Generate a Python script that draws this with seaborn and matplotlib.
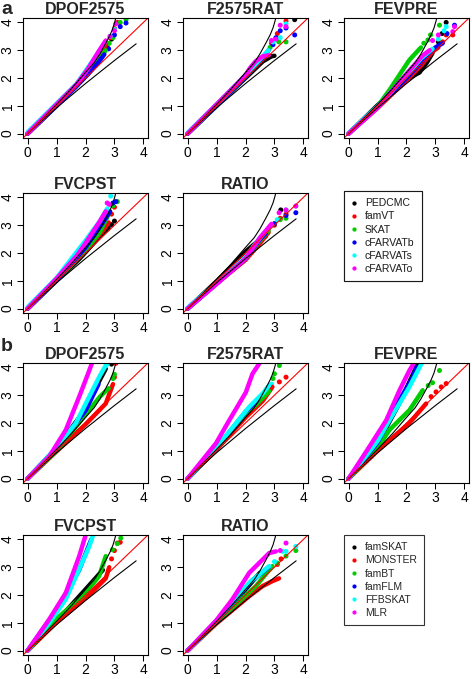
import matplotlib
matplotlib.use("Agg")
import matplotlib.pyplot as plt
import seaborn as sns
import pandas as pd
from matplotlib.lines import Line2D

sns.set_style("ticks")
plt.rcParams['font.family'] = ['Liberation Sans', 'DejaVu Sans']

SERIES_A = ["PEDCMC", "famVT", "SKAT", "cFARVATb", "cFARVATs", "cFARVATo"]
SERIES_B = ["famSKAT", "MONSTER", "famBT", "famFLM", "FFBSKAT", "MLR"]
COLORS = ["#000000", "#FF0000", "#00CD00", "#0000FF", "#00FFFF", "#FF00FF"]
PHENOS = ["DPOF2575", "F2575RAT", "FEVPRE", "FVCPST", "RATIO"]
TICKS = [0, 1, 2, 3, 4]

# confidence band (expected vs observed -log10 p)
BAND_UP_X = [0, 0.5, 1.0, 1.5, 2.0, 2.3, 2.5, 2.7, 2.85, 2.95, 3.02, 3.08]
BAND_UP_Y = [0, 0.52, 1.05, 1.6, 2.2, 2.55, 2.87, 3.25, 3.55, 3.8, 4.05, 4.3]
BAND_LO_X = [0, 1.0, 2.0, 3.0, 3.75]
BAND_LO_Y = [0, 0.93, 1.8, 2.63, 3.23]

# each series: (dense body points, scattered tail points)
A_DPOF2575 = {
    "PEDCMC": ([(0, 0), (1, 1.0), (1.7, 1.72), (2.1, 2.2), (2.4, 2.55), (2.6, 2.85)], [(2.75, 3.1), (2.9, 3.4)]),
    "famVT": ([(0, 0), (1, 1.02), (1.7, 1.75), (2.2, 2.35), (2.5, 2.8), (2.7, 3.2)], [(2.85, 3.45), (3.0, 3.78), (3.1, 4.0)]),
    "SKAT": ([(0, 0), (1, 1.02), (1.7, 1.75), (2.2, 2.3), (2.5, 2.7), (2.7, 3.0)], [(2.82, 3.25), (2.95, 3.45), (3.2, 4.0), (3.4, 4.1)]),
    "cFARVATb": ([(0, 0), (1, 1.0), (1.7, 1.72), (2.1, 2.15), (2.4, 2.5), (2.65, 2.85)], [(2.8, 3.05), (3.0, 3.55), (3.2, 3.85), (3.4, 3.98)]),
    "cFARVATs": ([(0, 0.05), (1, 1.08), (1.7, 1.8), (2.1, 2.4), (2.4, 2.85), (2.65, 3.25)], [(2.85, 3.5), (3.0, 3.75)]),
    "cFARVATo": ([(0, 0), (1, 1.05), (1.7, 1.78), (2.1, 2.35), (2.45, 2.95), (2.7, 3.35)], [(2.85, 3.5), (3.0, 3.7), (3.05, 3.95)]),
}
A_F2575RAT = {
    "PEDCMC": ([(0, 0), (1, 1.0), (1.8, 1.8), (2.2, 2.2), (2.6, 2.6), (2.9, 2.78), (3.0, 2.8)], [(3.7, 4.1)]),
    "famVT": ([(0, 0), (1, 1.02), (2, 2.05), (2.4, 2.55), (2.7, 2.85)], [(2.9, 3.25), (3.1, 3.6), (3.4, 4.05)]),
    "SKAT": ([(0, 0), (1, 1.0), (2, 2.05), (2.4, 2.5), (2.7, 2.85)], [(2.85, 3.1), (3.15, 3.3), (3.4, 3.3)]),
    "cFARVATb": ([(0, 0), (1, 1.0), (2, 2.05), (2.4, 2.5), (2.8, 3.0)], [(2.95, 3.2), (3.05, 3.45), (3.2, 3.7), (3.4, 3.8), (3.7, 3.55)]),
    "cFARVATs": ([(0, 0.03), (1, 1.05), (2, 2.1), (2.4, 2.55), (2.8, 3.0)], [(2.95, 3.3), (3.2, 3.45), (3.4, 3.95)]),
    "cFARVATo": ([(0, 0), (1, 1.05), (2, 2.1), (2.15, 2.35), (2.35, 2.6), (2.6, 2.78), (2.8, 2.82)], [(2.9, 3.35), (3.05, 3.4), (3.2, 3.9), (3.4, 3.85)]),
}
A_FEVPRE = {
    "PEDCMC": ([(0, 0), (1, 1.02), (2, 1.95), (2.45, 2.2), (2.7, 2.55), (2.9, 2.9)], [(3.1, 3.3), (3.23, 3.6), (3.37, 4.0)]),
    "famVT": ([(0, 0), (1, 0.92), (2, 1.92), (2.5, 2.45), (2.9, 2.95), (3.1, 3.1)], [(3.25, 3.3), (3.37, 3.55), (3.6, 3.55)]),
    "SKAT": ([(0, 0), (1, 0.98), (1.4, 1.55), (2.1, 2.65), (2.5, 3.1)], [(2.6, 3.25), (2.74, 3.37), (2.83, 3.55), (3.14, 3.9)]),
    "cFARVATb": ([(0, 0), (1, 0.97), (2, 2.0), (2.5, 2.55), (3.0, 3.1), (3.25, 3.25)], [(3.4, 3.6), (3.66, 3.9)]),
    "cFARVATs": ([(0, 0.02), (1, 0.98), (2, 2.1), (2.5, 2.7), (2.9, 3.05)], [(3.1, 3.4), (3.3, 3.7), (3.37, 3.85)]),
    "cFARVATo": ([(0, 0), (1, 0.93), (2, 2.15), (2.55, 2.8), (2.8, 3.0)], [(2.9, 3.35), (3.1, 3.55), (3.6, 3.67), (3.66, 3.85)]),
}
A_FVCPST = {
    "PEDCMC": ([(0, 0), (1, 1.0), (1.8, 1.8), (2.5, 2.6), (2.8, 2.9)], [(2.9, 3.02), (3.0, 3.15)]),
    "famVT": ([(0, 0), (1, 1.02), (2, 2.1), (2.6, 2.8), (2.8, 3.1)], [(2.9, 3.4), (3.0, 3.65)]),
    "SKAT": ([(0, 0), (1, 1.02), (2, 2.1), (2.5, 2.75), (2.8, 3.4)], [(2.95, 3.7), (3.1, 3.85)]),
    "cFARVATb": ([(0, 0), (1, 1.02), (2, 2.2), (2.6, 3.1), (2.85, 3.5)], [(2.95, 3.8), (3.05, 3.85)]),
    "cFARVATs": ([(0, 0.05), (1, 1.1), (2, 2.45), (2.5, 3.15), (2.75, 3.6)], [(2.87, 4.05)]),
    "cFARVATo": ([(0, 0), (1, 1.08), (1.7, 1.9), (2.0, 2.35), (2.47, 3.1), (2.7, 3.5)], [(2.82, 3.75), (2.75, 3.8)]),
}
A_RATIO = {
    "PEDCMC": ([(0, 0), (1, 0.98), (1.5, 1.5), (2.0, 2.05), (2.4, 2.4), (2.7, 2.6)], [(3.0, 3.05), (3.22, 3.55)]),
    "famVT": ([(0, 0), (1, 0.9), (2, 1.75), (2.5, 2.35), (2.8, 2.75)], [(3.0, 3.0), (3.2, 3.25), (3.4, 3.4)]),
    "SKAT": ([(0, 0), (1, 0.9), (2, 1.8), (2.5, 2.45), (2.8, 2.8)], [(3.0, 3.05), (3.2, 3.2), (3.4, 3.25)]),
    "cFARVATb": ([(0, 0), (1, 0.9), (2, 1.8), (2.5, 2.5), (2.7, 2.7)], [(3.0, 3.05), (3.4, 3.35), (3.74, 3.45)]),
    "cFARVATs": ([(0, 0.03), (1, 0.92), (2, 1.85), (2.5, 2.55), (2.9, 3.0)], [(3.1, 3.2), (3.4, 3.55), (3.74, 3.69)]),
    "cFARVATo": ([(0, 0), (1, 0.88), (2, 1.8), (2.5, 2.55), (2.9, 3.05)], [(3.16, 3.45), (3.4, 3.55), (3.74, 3.69)]),
}

B_DPOF2575 = {
    "famSKAT": ([(0, 0), (1, 1.1), (2, 2.5), (2.47, 3.5), (2.7, 3.95)], [(2.9, 4.12)]),
    "MONSTER": ([(0, 0), (1, 0.98), (2, 1.95), (2.7, 2.7), (2.95, 3.4)], [(3.0, 3.65), (3.05, 4.15)]),
    "famBT": ([(0, 0), (1, 1.0), (2, 2.3), (2.5, 2.95), (2.8, 3.25)], [(2.95, 3.6), (3.0, 3.75)]),
    "famFLM": ([(0, 0), (1, 1.08), (2, 2.45), (2.45, 3.4)], []),
    "FFBSKAT": ([(0, 0), (1, 1.12), (1.67, 2.0), (2.13, 2.95), (2.47, 3.65), (2.7, 4.07)], [(2.75, 4.12)]),
    "MLR": ([(0, 0), (0.75, 0.8), (1.32, 1.75), (1.78, 2.94), (2.13, 3.89), (2.24, 4.2)], []),
}
B_F2575RAT = {
    "famSKAT": ([(0, 0), (1, 1.05), (2, 2.25), (2.5, 2.75)], []),
    "MONSTER": ([(0, 0), (1, 1.05), (2, 2.2), (2.6, 2.8), (2.93, 3.3)], [(3.17, 3.48), (3.4, 3.65)]),
    "famBT": ([(0, 0), (1, 1.08), (2, 2.35), (2.36, 2.65), (2.82, 3.15)], [(2.95, 3.6), (3.0, 3.77), (3.17, 4.07)]),
    "famFLM": ([(0, 0), (1, 1.1), (2, 2.4), (2.4, 2.8)], []),
    "FFBSKAT": ([(0, 0), (1, 1.12), (2.13, 2.58), (2.59, 3.06), (2.82, 3.36)], [(2.9, 3.4)]),
    "MLR": ([(0, 0), (0.98, 1.27), (1.44, 2.1), (2.01, 3.1), (2.24, 3.77), (2.47, 4.13)], []),
}
B_FEVPRE = {
    "famSKAT": ([(0, 0), (1, 1.25), (1.8, 2.8), (2.33, 4.0), (2.4, 4.2)], []),
    "MONSTER": ([(0, 0), (1, 1.0), (2.1, 2.0), (2.68, 2.7)], [(2.85, 2.95), (3.02, 3.12), (3.2, 3.3), (3.37, 3.42)]),
    "famBT": ([(0, 0), (1, 1.1), (1.41, 1.75), (2.1, 2.46), (2.56, 3.18)], [(2.75, 3.35), (2.9, 3.45), (3.14, 3.89)]),
    "famFLM": ([(0, 0), (1, 1.3), (1.8, 2.9), (2.22, 3.65), (2.35, 4.0)], []),
    "FFBSKAT": ([(0, 0), (1, 1.35), (1.41, 2.1), (2.1, 3.3), (2.45, 4.0), (2.55, 4.2)], []),
    "MLR": ([(0, 0), (0.72, 1.15), (1.3, 2.1), (1.76, 3.18), (2.1, 3.89), (2.28, 4.2)], []),
}
B_FVCPST = {
    "famSKAT": ([(0, 0), (1, 1.05), (2, 2.2), (2.6, 2.9)], []),
    "MONSTER": ([(0, 0), (1, 1.02), (2.13, 2.0), (2.7, 2.6), (2.82, 3.0)], [(2.9, 3.3), (3.0, 3.6), (3.1, 3.87), (3.2, 3.9)]),
    "famBT": ([(0, 0), (1, 1.15), (1.9, 1.95), (2.47, 2.68), (2.7, 3.4)], [(2.93, 3.63), (3.1, 3.85), (3.22, 4.05)]),
    "famFLM": ([(0, 0), (1, 1.45), (1.78, 2.9), (2.2, 4.0)], []),
    "FFBSKAT": ([(0, 0), (0.75, 1.0), (1.32, 1.85), (1.78, 2.92), (2.13, 3.75), (2.26, 4.15)], []),
    "MLR": ([(0, 0), (0.75, 1.13), (1.32, 2.08), (1.78, 3.39), (2.01, 4.17)], []),
}
B_RATIO = {
    "famSKAT": ([(0, 0), (1, 1.05), (2, 2.2), (2.5, 2.8)], []),
    "MONSTER": ([(0, 0), (1, 0.98), (2.13, 1.96), (2.59, 2.32), (2.93, 2.5), (3.16, 2.6)], [(3.1, 3.1), (3.23, 3.3)]),
    "famBT": ([(0, 0), (1, 1.02), (2.36, 2.32), (2.93, 3.04)], [(3.1, 3.15), (3.4, 3.4), (3.74, 3.6)]),
    "famFLM": ([(0, 0), (1, 1.05), (2.2, 2.5), (2.8, 3.0)], []),
    "FFBSKAT": ([(0, 0), (1, 1.08), (2.13, 2.44), (2.82, 3.04)], [(3.0, 3.2), (3.28, 3.57), (3.4, 3.57), (3.74, 3.75)]),
    "MLR": ([(0, 0), (1, 1.1), (1.55, 1.85), (2.13, 2.8), (2.47, 3.15), (2.82, 3.51), (3.05, 3.57)], [(3.2, 3.6), (3.4, 3.87)]),
}

PANELS_A = [A_DPOF2575, A_F2575RAT, A_FEVPRE, A_FVCPST, A_RATIO]
PANELS_B = [B_DPOF2575, B_F2575RAT, B_FEVPRE, B_FVCPST, B_RATIO]

W, H = 472, 679
fig = plt.figure(figsize=(W / 100, H / 100), dpi=100)

LEFTS = [23, 183, 344]
TOPS_A = [18, 193]
TOPS_B = [363, 535]
BW, BH = 125, 120


def make_axes(left, top):
    return fig.add_axes([left / W, 1 - (top + BH) / H, BW / W, BH / H])


def draw_panel(ax, data, names, title):
    body_rows, tail_rows = [], []
    for name in names:
        body, tail = data[name]
        for i, (x, y) in enumerate(body):
            body_rows.append({"x": x, "y": y, "series": name, "i": i})
        for x, y in tail:
            tail_rows.append({"x": x, "y": y, "series": name})
    bdf = pd.DataFrame(body_rows)
    pal = dict(zip(names, COLORS))
    sns.lineplot(data=bdf, x="x", y="y", hue="series", hue_order=names, palette=pal,
                 sort=False, estimator=None, lw=3.2, legend=False, ax=ax,
                 solid_capstyle="round", solid_joinstyle="round")
    if tail_rows:
        tdf = pd.DataFrame(tail_rows)
        sns.scatterplot(data=tdf, x="x", y="y", hue="series", hue_order=names, palette=pal,
                        s=13, linewidth=0, legend=False, ax=ax)
    ax.plot(BAND_UP_X, BAND_UP_Y, color="black", lw=0.8)
    ax.plot(BAND_LO_X, BAND_LO_Y, color="black", lw=0.8)
    ax.axline((0, 0), slope=1, color="red", lw=0.8)
    ax.set_xlim(-0.16, 4.16)
    ax.set_ylim(-0.16, 4.16)
    ax.set_xticks(TICKS)
    ax.set_yticks(TICKS)
    ax.set_xticklabels([str(t) for t in TICKS])
    ax.set_yticklabels([str(t) for t in TICKS], rotation=90, va="center")
    ax.set_xlabel("")
    ax.set_ylabel("")
    ax.tick_params(direction="out", length=4, width=0.75, labelsize=10, pad=2, colors="black")
    for s in ax.spines.values():
        s.set_visible(True)
        s.set_linewidth(0.8)
        s.set_color("black")
    ax.set_title(title, fontsize=11.5, fontweight="bold", pad=3)


positions_a = [(LEFTS[0], TOPS_A[0]), (LEFTS[1], TOPS_A[0]), (LEFTS[2], TOPS_A[0]),
               (LEFTS[0], TOPS_A[1]), (LEFTS[1], TOPS_A[1])]
positions_b = [(LEFTS[0], TOPS_B[0]), (LEFTS[1], TOPS_B[0]), (LEFTS[2], TOPS_B[0]),
               (LEFTS[0], TOPS_B[1]), (LEFTS[1], TOPS_B[1])]

for (l, t), data, title in zip(positions_a, PANELS_A, PHENOS):
    draw_panel(make_axes(l, t), data, SERIES_A, title)
for (l, t), data, title in zip(positions_b, PANELS_B, PHENOS):
    draw_panel(make_axes(l, t), data, SERIES_B, title)


def add_legend(names, top):
    handles = [Line2D([], [], ls="none", marker="o", ms=3, color=c, mec="none") for c in COLORS]
    leg = fig.legend(handles, names, loc="upper left", bbox_to_anchor=(344 / W, 1 - top / H),
                     frameon=True, fancybox=False, edgecolor="black", fontsize=7.5,
                     handlelength=0.6, handletextpad=0.7, borderpad=0.7, labelspacing=0.3,
                     borderaxespad=0)
    leg.get_frame().set_linewidth(0.8)
    return leg


leg_a = add_legend(SERIES_A, 191)
fig.add_artist(leg_a)
add_legend(SERIES_B, 535)

fig.text(1 / W, 1 - 1 / H, "a", fontsize=14, fontweight="bold", va="top", ha="left")
fig.text(1 / W, 1 - 338 / H, "b", fontsize=14, fontweight="bold", va="top", ha="left")

fig.savefig("out.png", dpi=100)
